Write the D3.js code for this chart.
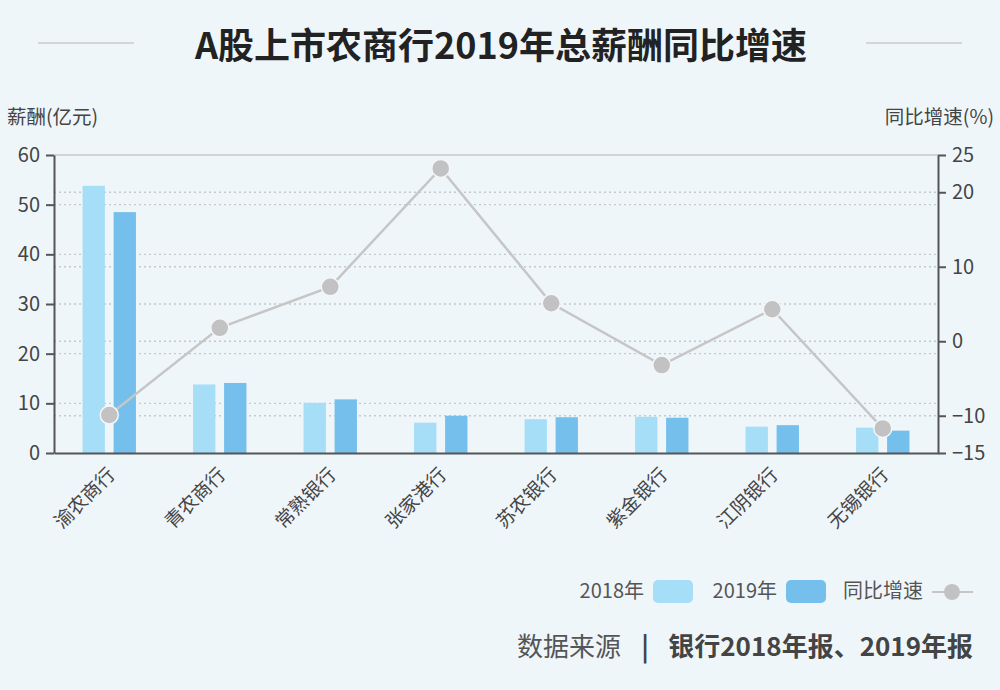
<!DOCTYPE html>
<html>
<head>
<meta charset="utf-8">
<script src="https://cdn.jsdelivr.net/npm/d3@7"></script>
<style>
  html, body { margin: 0; padding: 0; background: #eff6fa; }
  svg { display: block; font-family: "Noto Sans CJK SC", "Noto Sans", sans-serif; }
</style>
</head>
<body>
<script>
const banks = ["渝农商行", "青农商行", "常熟银行", "张家港行", "苏农银行", "紫金银行", "江阴银行", "无锡银行"];
const pay2018 = [53.8, 13.8, 10.1, 6.1, 6.8, 7.3, 5.3, 5.1];
const pay2019 = [48.5, 14.1, 10.8, 7.5, 7.2, 7.1, 5.6, 4.5];
const growth = [-9.9, 1.8, 7.3, 23.2, 5.1, -3.2, 4.3, -11.7];
const leftTicks = [0, 10, 20, 30, 40, 50, 60];
const rightTicks = [-15, -10, 0, 10, 20, 25];

const width = 1000, height = 690;
const m = { left: 54, right: 62, top: 155, bottom: 237 };
const c18 = "#a6def7", c19 = "#74bfeb", cLine = "#c6c6c6";

const svg = d3.select("body").append("svg")
    .attr("width", width)
    .attr("height", height);

svg.append("rect").attr("width", width).attr("height", height).attr("fill", "#eff6fa");

// title
svg.append("text")
    .attr("x", 501).attr("y", 59)
    .attr("text-anchor", "middle")
    .attr("font-size", 36).attr("font-weight", "bold")
    .attr("fill", "#222")
    .text("A股上市农商行2019年总薪酬同比增速");
svg.append("line").attr("x1", 38).attr("x2", 134).attr("y1", 43).attr("y2", 43)
    .attr("stroke", "#d2d6d8").attr("stroke-width", 2);
svg.append("line").attr("x1", 866).attr("x2", 962).attr("y1", 43).attr("y2", 43)
    .attr("stroke", "#d2d6d8").attr("stroke-width", 2);

const x = d3.scaleBand().domain(banks).range([m.left, width - m.right]);
const xs = d3.scaleBand().domain(["2018", "2019"]).range([0, x.bandwidth()]).paddingInner(0.28).paddingOuter(0.92);
const y = d3.scaleLinear().domain([0, 60]).range([height - m.bottom, m.top]);
const y2 = d3.scaleLinear().domain([-15, 25]).range([height - m.bottom, m.top]);

// dotted grid for both axes
const grid = svg.append("g");
const gridYs = leftTicks.filter(d => d > 0).map(d => y(d))
  .concat(rightTicks.filter(d => d > -15 && d < 25).map(d => y2(d)));
grid.selectAll("line").data(gridYs).enter().append("line")
    .attr("x1", m.left).attr("x2", width - m.right)
    .attr("y1", d => d).attr("y2", d => d)
    .attr("stroke", "#c4c8cb")
    .attr("stroke-width", 1.3)
    .attr("stroke-dasharray", d => d === y(60) ? null : "2,3");

// bars
const g = svg.append("g").selectAll("g").data(banks).enter().append("g")
    .attr("transform", d => `translate(${x(d)},0)`);
g.append("rect")
    .attr("x", xs("2018")).attr("width", xs.bandwidth())
    .attr("y", (d, i) => y(pay2018[i]))
    .attr("height", (d, i) => y(0) - y(pay2018[i]))
    .attr("fill", c18);
g.append("rect")
    .attr("x", xs("2019")).attr("width", xs.bandwidth())
    .attr("y", (d, i) => y(pay2019[i]))
    .attr("height", (d, i) => y(0) - y(pay2019[i]))
    .attr("fill", c19);

// axes
const axL = svg.append("g")
    .attr("transform", `translate(${m.left},0)`)
    .call(d3.axisLeft(y).tickValues(leftTicks).tickSize(8).tickPadding(6).tickSizeOuter(0));
const axR = svg.append("g")
    .attr("transform", `translate(${width - m.right},0)`)
    .call(d3.axisRight(y2).tickValues(rightTicks).tickSize(8).tickPadding(6).tickSizeOuter(0));
const axB = svg.append("g")
    .attr("transform", `translate(0,${y(0)})`)
    .call(d3.axisBottom(x).tickSize(0).tickSizeOuter(0));

[axL, axR, axB].forEach(a => {
  a.select(".domain").attr("stroke", "#555").attr("stroke-width", 2);
  a.selectAll(".tick line").attr("stroke", "#555").attr("stroke-width", 2);
  a.selectAll("text").attr("fill", "#444").attr("font-size", 20)
    .attr("font-family", "'Noto Sans CJK SC', 'Noto Sans', sans-serif");
});
axB.selectAll("text")
    .attr("font-size", 19)
    .attr("text-anchor", "end")
    .attr("dy", "0.35em")
    .attr("transform", "translate(0,16) rotate(-45)");

// axis titles
svg.append("text").attr("x", 7).attr("y", 124)
    .attr("font-size", 19.5).attr("fill", "#444").text("薪酬(亿元)");
svg.append("text").attr("x", 994).attr("y", 124).attr("text-anchor", "end")
    .attr("font-size", 19.5).attr("fill", "#444").text("同比增速(%)");

// growth line
const cx = d => x(d) + x.bandwidth() / 2;
svg.append("path")
    .datum(banks)
    .attr("fill", "none")
    .attr("stroke", cLine)
    .attr("stroke-width", 2.5)
    .attr("d", d3.line().x(cx).y((d, i) => y2(growth[i])));
svg.append("g").selectAll("circle").data(banks).enter().append("circle")
    .attr("cx", cx).attr("cy", (d, i) => y2(growth[i]))
    .attr("r", 9)
    .attr("fill", "#c2c2c2")
    .attr("stroke", "#f4f6f7").attr("stroke-width", 1.5);

// legend
const lg = svg.append("g").attr("font-size", 20).attr("fill", "#555");
lg.append("text").attr("x", 644).attr("y", 598).attr("text-anchor", "end").attr("fill", "#555").text("2018年");
lg.append("rect").attr("x", 653).attr("y", 580).attr("width", 40).attr("height", 23).attr("rx", 5).attr("fill", c18);
lg.append("text").attr("x", 777).attr("y", 598).attr("text-anchor", "end").attr("fill", "#555").text("2019年");
lg.append("rect").attr("x", 786).attr("y", 580).attr("width", 40).attr("height", 23).attr("rx", 5).attr("fill", c19);
lg.append("text").attr("x", 923).attr("y", 598).attr("text-anchor", "end").attr("fill", "#555").text("同比增速");
lg.append("line").attr("x1", 932).attr("x2", 973).attr("y1", 592).attr("y2", 592)
    .attr("stroke", cLine).attr("stroke-width", 2);
lg.append("circle").attr("cx", 952).attr("cy", 592).attr("r", 8).attr("fill", "#c2c2c2");

// source
const sg = svg.append("g").attr("font-size", 26).attr("fill", "#444");
sg.append("text").attr("x", 517).attr("y", 656).attr("fill", "#555").text("数据来源");
sg.append("text").attr("x", 645).attr("y", 656).attr("text-anchor", "middle")
    .attr("font-weight", "bold").attr("fill", "#444").text("|");
sg.append("text").attr("x", 973).attr("y", 656).attr("text-anchor", "end")
    .attr("font-weight", "bold").attr("fill", "#444").text("银行2018年报、2019年报");
</script>
</body>
</html>
